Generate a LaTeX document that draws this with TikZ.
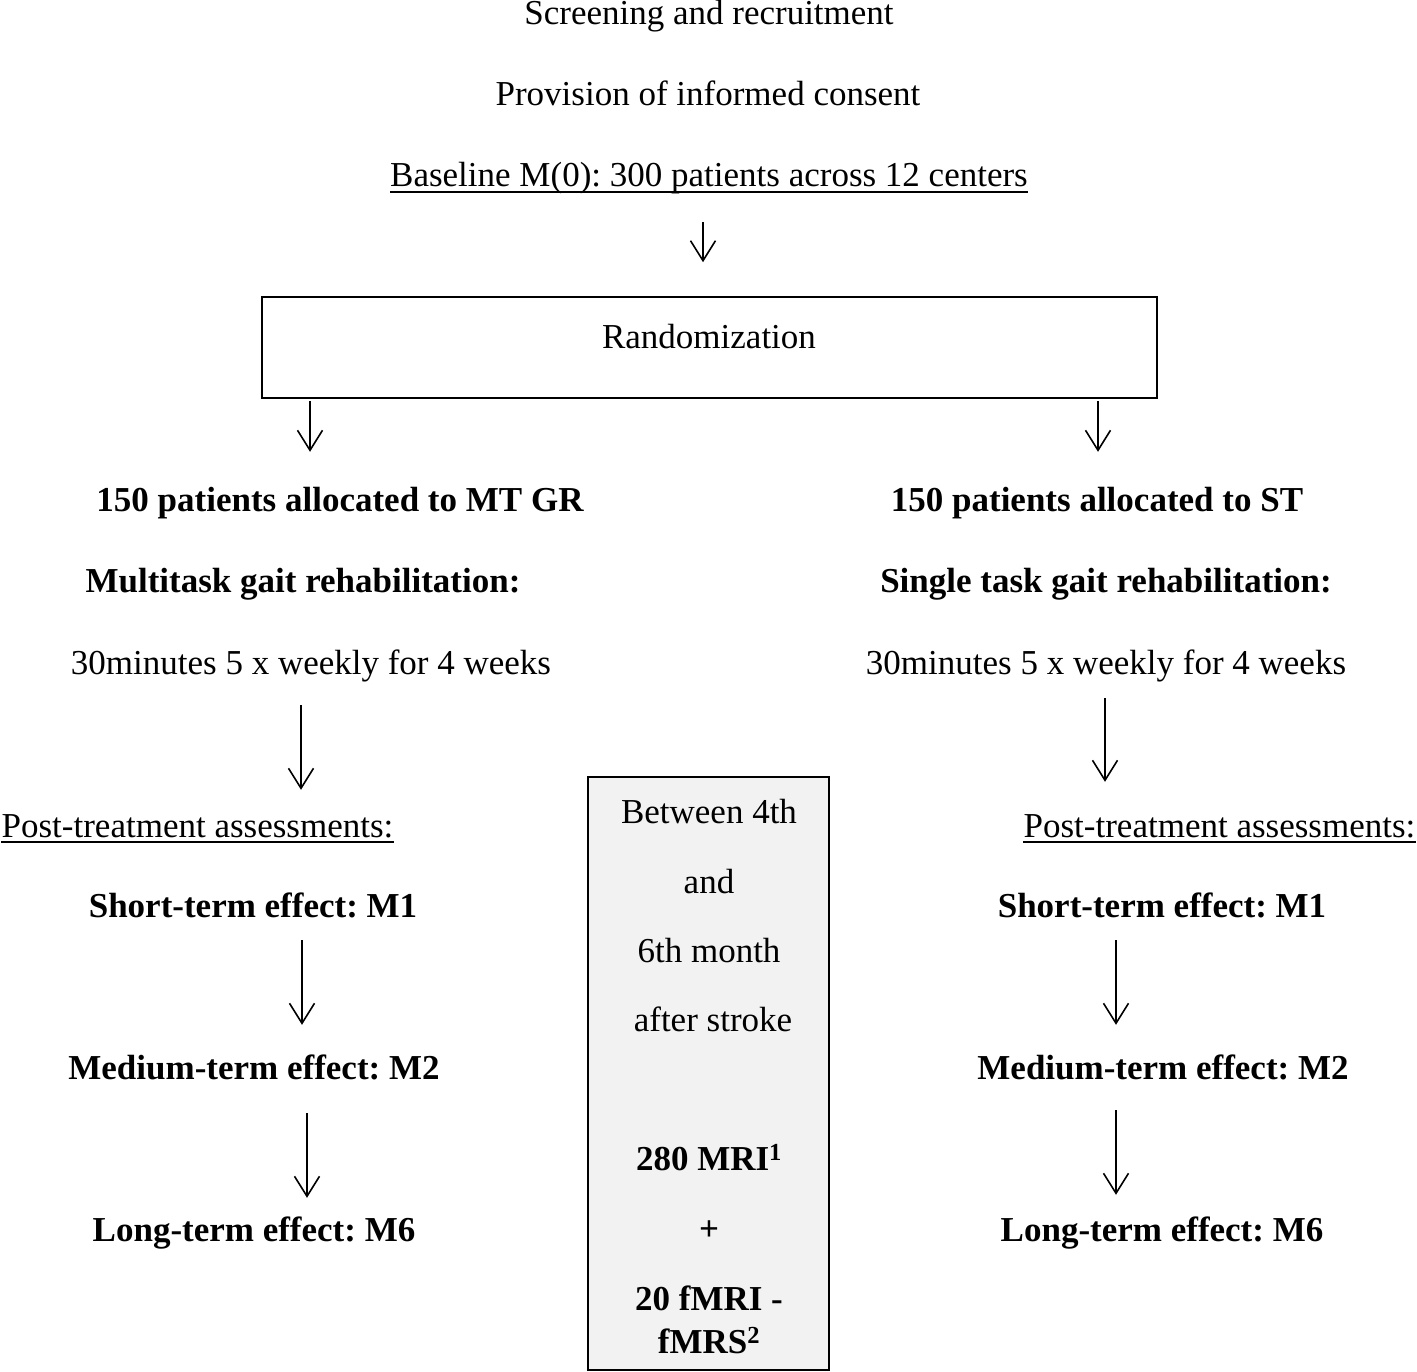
\documentclass[tikz,border=0pt]{standalone}
\usepackage{fontspec}
\setmainfont{Liberation Serif}
\usetikzlibrary{arrows.meta}
\definecolor{boxgray}{HTML}{F2F2F2}
\frenchspacing
\tikzset{
	MyText/.style={anchor=base,inner sep=0pt,text height=24pt,text depth=8pt},
	MyBold/.style={MyText,font=\fontsize{35}{42}\selectfont\bfseries},
	MyFlow/.style={line width=1.6pt,-{Straight Barb[length=20pt,width=25pt,line width=1.6pt]}},
	MyUline/.style={line width=1.6pt}
		}
\begin{document}
\begin{tikzpicture}[x=1pt,y=-1pt,font=\fontsize{35}{42}\selectfont]
	\useasboundingbox (0,0) rectangle (1417,1372);
	% top of the chart
	\node[MyText] (scr) at (709,25) {Screening and recruitment};
	\node[MyText] (cons) at (708,106) {Provision of informed consent};
	\node[MyText] (base) at (709,187) {Baseline M(0): 300 patients across 12 centers};
	\draw[MyUline] ([yshift=-5pt]base.base west) -- ([yshift=-5pt]base.base east);
	\node[draw,line width=1.6pt,minimum width=895pt,minimum height=101pt,inner sep=0pt] (rand) at (709.5,347.5) {};
	\node[MyText] (randtxt) at (709,349) {Randomization};
	% left arm (MT GR)
	\node[MyBold] (mt1) at (340,511) {150 patients allocated to MT GR};
	\node[MyBold] (mt2) at (303,592) {Multitask gait rehabilitation:};
	\node[MyText] (mt3) at (311,674) {30minutes 5 x weekly for 4 weeks};
	\node[MyText] (postL) at (197.5,837) {Post-treatment assessments:};
	\draw[MyUline] ([yshift=-5pt]postL.base west) -- ([yshift=-5pt]postL.base east);
	\node[MyBold] (shortL) at (253,917) {Short-term effect: M1};
	\node[MyBold] (medL) at (254,1079) {Medium-term effect: M2};
	\node[MyBold] (longL) at (254,1241) {Long-term effect: M6};
	% right arm (ST)
	\node[MyBold] (st1) at (1097,511) {150 patients allocated to ST};
	\node[MyBold] (st2) at (1106,592) {Single task gait rehabilitation:};
	\node[MyText] (st3) at (1106,674) {30minutes 5 x weekly for 4 weeks};
	\node[MyText] (postR) at (1219.5,837) {Post-treatment assessments:};
	\draw[MyUline] ([yshift=-5pt]postR.base west) -- ([yshift=-5pt]postR.base east);
	\node[MyBold] (shortR) at (1162,917) {Short-term effect: M1};
	\node[MyBold] (medR) at (1163,1079) {Medium-term effect: M2};
	\node[MyBold] (longR) at (1162,1241) {Long-term effect: M6};
	% imaging box in the middle
	\node[draw,fill=boxgray,line width=1.6pt,minimum width=241pt,minimum height=593pt,inner sep=0pt] (mri) at (708.5,1073.5) {};
	\node[MyText] (mri1) at (709,823) {Between 4th};
	\node[MyText] (mri2) at (709,893) {and};
	\node[MyText] (mri3) at (709,962) {6th month};
	\node[MyText] (mri4) at (713,1031) {after stroke};
	\node[MyBold] (mri5) at (709,1170) {280 MRI\textsuperscript{1}};
	\node[MyBold] (mri6) at (709,1240) {+};
	\node[MyBold] (mri7) at (709,1310) {20 fMRI -};
	\node[MyBold] (mri8) at (709,1353) {fMRS\textsuperscript{2}};

	\draw[MyFlow,shorten <=27pt,shorten >=34pt] (base.south -| 703,0) -- (rand.north -| 703,0);
	\draw[MyFlow,shorten <=2pt,shorten >=35pt] (rand.south -| 310,0) -- (mt1.north -| 310,0);
	\draw[MyFlow,shorten <=2pt,shorten >=35pt] (rand.south -| 1098,0) -- (st1.north -| 1098,0);
	\draw[MyFlow,shorten <=23pt,shorten >=23pt] (mt3.south -| 301,0) -- (postL.north -| 301,0);
	\draw[MyFlow,shorten <=16pt,shorten >=31pt] (st3.south -| 1105,0) -- (postR.north -| 1105,0);
	\draw[MyFlow,shorten <=15pt,shorten >=30pt] (shortL.south -| 302,0) -- (medL.north -| 302,0);
	\draw[MyFlow,shorten <=15pt,shorten >=30pt] (shortR.south -| 1116,0) -- (medR.north -| 1116,0);
	\draw[MyFlow,shorten <=26pt,shorten >=19pt] (medL.south -| 307,0) -- (longL.north -| 307,0);
	\draw[MyFlow,shorten <=23pt,shorten >=22pt] (medR.south -| 1116,0) -- (longR.north -| 1116,0);
\end{tikzpicture}
\end{document}
